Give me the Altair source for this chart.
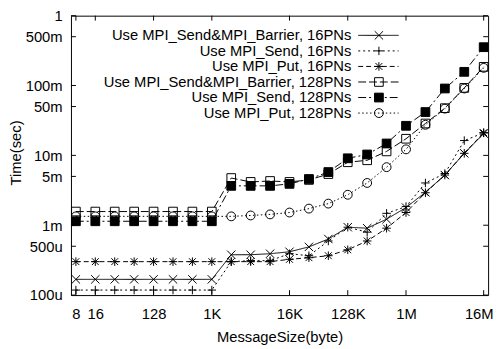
import json
import altair as alt
import pandas as pd

# ---------------- data ----------------
sizes = [8, 16, 32, 64, 128, 256, 512, 1024, 2048, 4096, 8192, 16384, 32768,
         65536, 131072, 262144, 524288, 1048576, 2097152, 4194304, 8388608, 16777216]

series_names = [
    "Use MPI_Send&MPI_Barrier, 16PNs",
    "Use MPI_Send, 16PNs",
    "Use MPI_Put, 16PNs",
    "Use MPI_Send&MPI_Barrier, 128PNs",
    "Use MPI_Send, 128PNs",
    "Use MPI_Put, 128PNs",
]

barrier16 = [0.000168, 0.000168, 0.000168, 0.000168, 0.000168, 0.000168, 0.000168, 0.000168,
             0.000378, 0.000378, 0.000391, 0.000417, 0.000490, 0.000635, 0.000937, 0.000907,
             0.00122, 0.00179, 0.00296, 0.00523, 0.0107, 0.0205]
send16 = [0.000118, 0.000118, 0.000118, 0.000118, 0.000118, 0.000118, 0.000118, 0.000118,
          0.000301, 0.000311, 0.000311, 0.000391, 0.000366, 0.000595, 0.000937, 0.000796,
          0.00148, 0.00185, 0.00403, 0.00550, 0.0163, 0.0210]
put16 = [0.000301, 0.000301, 0.000301, 0.000301, 0.000301, 0.000301, 0.000301, 0.000301,
         0.000301, 0.000301, 0.000301, 0.000325, 0.000343, 0.000366, 0.000445, 0.000595,
         0.000907, 0.00152, 0.00292, 0.00523, 0.0107, 0.0211]
barrier128 = [0.00157, 0.00157, 0.00157, 0.00157, 0.00157, 0.00157, 0.00157, 0.00157,
              0.00474, 0.00417, 0.00430, 0.00417, 0.00445, 0.00540, 0.00797, 0.00851,
              0.0114, 0.0173, 0.0286, 0.0474, 0.0925, 0.185]
send128 = [0.00114, 0.00114, 0.00114, 0.00114, 0.00114, 0.00114, 0.00114, 0.00114,
           0.00366, 0.00366, 0.00366, 0.00391, 0.00459, 0.00577, 0.00908, 0.0103,
           0.0148, 0.0265, 0.0417, 0.0907, 0.157, 0.354]
put128 = [0.00134, 0.00134, 0.00134, 0.00134, 0.00134, 0.00134, 0.00134, 0.00134,
          0.00134, 0.00138, 0.00143, 0.00152, 0.00173, 0.00204, 0.00273, 0.00403,
          0.00678, 0.0122, 0.0274, 0.0467, 0.0907, 0.179]

x_tick_values = [8, 16, 128, 1024, 16384, 131072, 1048576, 16777216]
x_tick_labels = ["8", "16", "128", "1K", "16K", "128K", "1M", "16M"]
y_tick_values = [1, 0.5, 0.1, 0.05, 0.01, 0.005, 0.001, 0.0005, 0.0001]
y_tick_labels = ["1", "500m", "100m", "50m", "10m", "5m", "1m", "500u", "100u"]

# ---------------- styles ----------------
FONT = "Liberation Sans"
FS = 15
W, H = 424, 284
TICK = 5

X_PATH = "M-1,-1L1,1M-1,1L1,-1"
PLUS_PATH = "M-1,0L1,0M0,-1L0,1"
STAR_PATH = "M-1,0L1,0M0,-1L0,1M-0.8,-0.8L0.8,0.8M-0.8,0.8L0.8,-0.8"

dash_range = [[1, 0], [2, 3], [5, 3], [8, 3], [8, 3, 2, 3], [1.5, 2.5]]
shape_range = [X_PATH, PLUS_PATH, STAR_PATH, "square", "square", "circle"]
fill_range = ["transparent", "transparent", "transparent", "transparent", "black", "transparent"]
size_range = [72, 81, 81, 72, 72, 56]

rows = []
for name, vals in zip(series_names, [barrier16, send16, put16, barrier128, send128, put128]):
    for s, v in zip(sizes, vals):
        rows.append({"series": name, "size": s, "time": v})
df = pd.DataFrame(rows)

xscale = alt.Scale(type="log", base=2, domain=[6.71, 19650000])
yscale = alt.Scale(type="log", domain=[0.0001, 1])

x_label_expr = f"{json.dumps(x_tick_labels)}[indexof({json.dumps(x_tick_values)}, datum.value)]"
y_label_expr = f"{json.dumps(y_tick_labels)}[indexof({json.dumps(y_tick_values)}, datum.value)]"

x_axis = alt.Axis(values=x_tick_values, labelExpr=x_label_expr, title="MessageSize(byte)",
                  ticks=False, tickSize=0, domain=False, grid=False, labelPadding=12,
                  labelFlush=False, titleY=47, titleBaseline="alphabetic",
                  labelOffset={"expr": "datum.value > 10000000 ? -5 : 0"})
y_axis = alt.Axis(values=y_tick_values, labelExpr=y_label_expr, title="Time(sec)",
                  ticks=False, tickSize=0, domain=False, grid=False, labelPadding=9,
                  labelFlush=False, titleX=-51, titleY=139, titleAngle=270,
                  titleBaseline="alphabetic", titleAlign="center")

x_enc = alt.X("size:Q", scale=xscale, axis=x_axis)
y_enc = alt.Y("time:Q", scale=yscale, axis=y_axis)

dash_enc = alt.StrokeDash("series:N", scale=alt.Scale(domain=series_names, range=dash_range), legend=None)
shape_enc = alt.Shape("series:N", scale=alt.Scale(domain=series_names, range=shape_range), legend=None)
fill_enc = alt.Fill("series:N", scale=alt.Scale(domain=series_names, range=fill_range), legend=None)
size_enc = alt.Size("series:N", scale=alt.Scale(domain=series_names, range=size_range), legend=None)

lines = alt.Chart(df).mark_line(color="black", strokeWidth=1).encode(
    x=x_enc, y=y_enc, strokeDash=dash_enc, detail="series:N")
points = alt.Chart(df).mark_point(filled=True, stroke="black", strokeWidth=1, opacity=1).encode(
    x=x_enc, y=y_enc, shape=shape_enc, fill=fill_enc, size=size_enc)

# inward ticks on all four sides
xt = pd.DataFrame({"size": x_tick_values})
yt = pd.DataFrame({"time": y_tick_values})
xt_bottom = alt.Chart(xt).mark_rule(color="black", strokeWidth=1).encode(
    x=x_enc, y=alt.value(H), y2=alt.value(H - TICK))
xt_top = alt.Chart(xt).mark_rule(color="black", strokeWidth=1).encode(
    x=x_enc, y=alt.value(0), y2=alt.value(TICK))
yt_left = alt.Chart(yt).mark_rule(color="black", strokeWidth=1).encode(
    y=y_enc, x=alt.value(0), x2=alt.value(TICK))
yt_right = alt.Chart(yt).mark_rule(color="black", strokeWidth=1).encode(
    y=y_enc, x=alt.value(W), x2=alt.value(W - TICK))

# gnuplot-style key: text right-aligned, then line sample with marker
leg_df = pd.DataFrame({"series": series_names})
leg_y = alt.Y("series:N", sort=series_names,
              scale=alt.Scale(type="point", domain=series_names, range=[20, 99], padding=0),
              axis=None)
leg_text = alt.Chart(leg_df).mark_text(align="right", baseline="middle", font=FONT,
                                       fontSize=FS, color="black").encode(
    x=alt.value(285), y=leg_y, text="series:N")
leg_line = alt.Chart(leg_df).mark_rule(color="black", strokeWidth=1).encode(
    x=alt.value(292), x2=alt.value(333), y=leg_y, strokeDash=dash_enc)
leg_pts = alt.Chart(leg_df).mark_point(filled=True, stroke="black", strokeWidth=1, opacity=1).encode(
    x=alt.value(313), y=leg_y, shape=shape_enc, fill=fill_enc, size=size_enc)

main = alt.layer(lines, points, xt_bottom, xt_top, yt_left, yt_right)
legend = alt.layer(leg_text, leg_line, leg_pts)

chart = alt.layer(main, legend).resolve_scale(y="independent").properties(
    width=W, height=H,
    autosize=alt.AutoSizeParams(type="none"),
    padding={"left": 64, "top": 5, "right": 7, "bottom": 52},
    background="white",
).configure_view(stroke="black", strokeWidth=1).configure_axis(
    labelFont=FONT, labelFontSize=FS, labelColor="black",
    titleFont=FONT, titleFontSize=FS, titleColor="black", titleFontWeight="normal",
)

chart.save("out.html", embed_options={"renderer": "svg", "actions": False})
